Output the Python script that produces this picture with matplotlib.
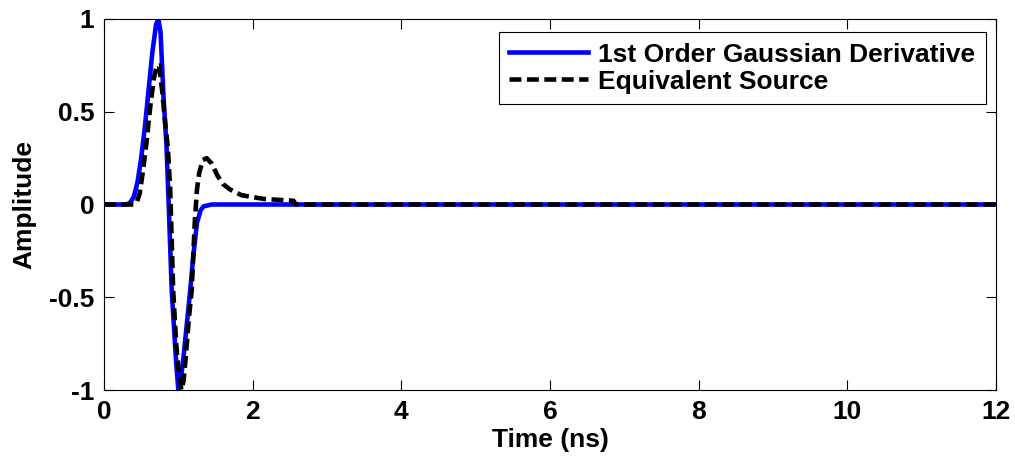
import matplotlib
matplotlib.use("Agg")
import matplotlib.pyplot as plt
from matplotlib.ticker import FuncFormatter

# Data (time in ns, amplitude)
blue_t = [0, 0.30, 0.35, 0.40, 0.45, 0.50, 0.55, 0.60, 0.65, 0.70, 0.73, 0.76,
          0.80, 0.82, 0.84, 0.87, 0.91, 0.95, 0.97, 1.00, 1.03, 1.07, 1.12,
          1.16, 1.20, 1.25, 1.30, 1.34, 1.45, 12]
blue_a = [0, 0, 0.01, 0.04, 0.12, 0.25, 0.42, 0.62, 0.82, 0.97, 1.00, 0.93,
          0.58, 0.45, 0.32, 0.0, -0.46, -0.72, -0.85, -1.00, -0.95, -0.82, -0.62,
          -0.46, -0.28, -0.10, -0.03, -0.01, 0, 0]

black_t = [0, 0.40, 0.44, 0.48, 0.52, 0.57, 0.62, 0.67, 0.71, 0.74, 0.78, 0.82,
           0.86, 0.89, 0.93, 0.97, 1.00, 1.04, 1.07, 1.10, 1.14, 1.18, 1.22,
           1.25, 1.28, 1.33, 1.38, 1.45, 1.52, 1.60, 1.70, 1.85, 2.00, 2.15,
           2.35, 2.55, 2.58, 12]
black_a = [0, 0, 0.01, 0.06, 0.17, 0.33, 0.52, 0.68, 0.75, 0.75, 0.62, 0.45,
           0.30, 0.08, -0.46, -0.75, -0.88, -1.00, -0.95, -0.82, -0.62, -0.46, -0.10,
           0.08, 0.17, 0.24, 0.25, 0.22, 0.16, 0.11, 0.08, 0.05, 0.04, 0.03,
           0.025, 0.02, 0.0, 0]

x_ticks = [0, 2, 4, 6, 8, 10, 12]
y_ticks = [-1, -0.5, 0, 0.5, 1]
series_labels = ["1st Order Gaussian Derivative", "Equivalent Source"]

plt.rcParams['font.family'] = ['Liberation Sans', 'DejaVu Sans']
plt.rcParams['font.weight'] = 'bold'

FS = 19
LFS = 19

fig = plt.figure(figsize=(10.15, 4.61), dpi=100)
ax = fig.add_axes([0.1025, 0.154, 0.8788, 0.8048])

ax.plot(blue_t, blue_a, color='#0000ff', lw=3.3, label=series_labels[0], zorder=2)
ax.plot(black_t, black_a, color='black', lw=3.3, ls=(0, (2.6, 1.2)),
        label=series_labels[1], zorder=3)

ax.set_xlim(0, 12)
ax.set_ylim(-1, 1)
ax.set_xticks(x_ticks)
ax.set_yticks(y_ticks)
ax.yaxis.set_major_formatter(FuncFormatter(lambda v, p: ('%g' % v)))
ax.tick_params(direction='in', length=7, width=0.8, top=True, right=True,
               labelsize=FS, pad=7)
for lab in ax.get_xticklabels() + ax.get_yticklabels():
    lab.set_fontweight('bold')
for s in ax.spines.values():
    s.set_linewidth(0.8)

ax.set_xlabel('Time (ns)', fontsize=FS, fontweight='bold', labelpad=3)
ax.set_ylabel('Amplitude', fontsize=FS, fontweight='bold', labelpad=9)

leg = ax.legend(loc='upper right', bbox_to_anchor=(0.9888, 0.965), fontsize=LFS,
                frameon=True, fancybox=False, edgecolor='black', framealpha=1,
                handlelength=3.0, handletextpad=0.38, borderpad=0.4,
                labelspacing=0.12, borderaxespad=0)
leg.get_frame().set_linewidth(0.8)
for t in leg.get_texts():
    t.set_fontweight('bold')

fig.savefig('out.png', dpi=100)
